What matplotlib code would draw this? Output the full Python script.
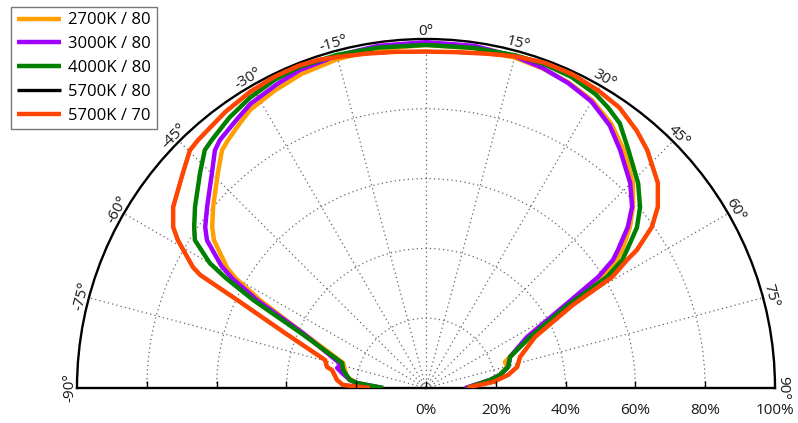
import numpy as np
import matplotlib
matplotlib.use('Agg')
import matplotlib.pyplot as plt
from matplotlib import markers

plt.rcParams['font.family'] = ['Open Sans', 'DejaVu Sans']

# ---------------- data (angle in degrees, relative intensity in %) ----------------
series_labels = ['2700K / 80', '3000K / 80', '4000K / 80', '5700K / 80', '5700K / 70']
series_colors = ['#FFA000', '#A000FF', '#008000', '#000000', '#FF4500']

theta_2700 = [-90, -85.9, -82.1, -73.2, -65.9, -62.1, -60.0, -58.9, -55.1, -53.0, -49.6, -44.1,
              -40.6, -38.6, -35, -32.2, -27, -21.6, -15, -8, 0, 8, 15, 20, 25, 30, 35, 39.7,
              45.3, 48.8, 51.7, 54.9, 56.2, 57.9, 59.5, 63.7, 71.8, 75.6, 80.0, 82.9, 90]
r_2700 = [13.2, 19.8, 22.9, 24.8, 38.6, 53.8, 63.0, 66.5, 74.1, 76.7, 80.1, 85.7,
          89.8, 90.9, 92.8, 94.3, 95.6, 96.8, 97.6, 98.1, 98.3, 98.3, 98.0, 97.5, 96.6, 95.2, 92.5, 88.7,
          83.5, 78.8, 74.5, 68.7, 65.6, 59.9, 46.9, 32.9, 23.8, 24.0, 21.5, 18.5, 11.7]

theta_3000 = [-90, -85.9, -84.0, -79.9, -77.3, -74.5, -66.0, -62.5, -60.5, -59.2, -56.0, -53.9,
              -50.4, -44.9, -41.6, -39.7, -35, -31.7, -26, -21.6, -15, -8, 0, 8, 15, 20, 25, 30,
              35, 39.2, 44.9, 48.7, 51.4, 54.3, 55.6, 57.2, 59.2, 63.2, 69.7, 75.6, 80.0, 82.9, 90]
r_3000 = [12.3, 19.8, 21.9, 24.4, 26.1, 25.2, 38.5, 54.6, 63.8, 68.2, 75.7, 78.3,
          81.4, 86.9, 91.1, 92.4, 94.2, 95.7, 97.0, 98.0, 98.6, 99.0, 99.1, 99.0, 98.4, 97.6, 96.4, 94.8,
          91.8, 88.0, 82.9, 78.6, 74.0, 67.7, 64.9, 58.7, 46.4, 32.4, 25.7, 24.3, 21.5, 18.5, 11.2]

theta_4000 = [-90, -85.9, -84.0, -77.8, -73.4, -66.3, -63.0, -61.2, -60.0, -57.4, -55.2, -51.9,
              -46.4, -42.9, -40.8, -36, -31.2, -26, -21.6, -15, -8, 0, 8, 15, 20, 25, 30, 33,
              36.2, 40.4, 46.0, 49.8, 52.7, 55.5, 56.9, 58.5, 59.7, 63.9, 69.7, 75.6, 80.0, 82.9, 90]
r_4000 = [12.3, 19.8, 21.9, 24.3, 25.1, 39.1, 55.6, 65.5, 71.5, 78.6, 80.9, 84.1,
          89.4, 93.1, 93.9, 95.8, 97.3, 98.4, 98.9, 98.8, 98.5, 98.3, 98.4, 98.7, 98.8, 98.4, 97.2, 95.8,
          94.0, 89.5, 84.5, 80.3, 76.0, 69.9, 67.1, 60.8, 47.1, 33.2, 25.7, 24.3, 21.5, 18.5, 11.7]

theta_5700_80 = [-90, -87.9, -84.9, -79.2, -78.0, -74.5, -68.7, -65.0, -63.4, -62.6, -59.2, -57.5,
                 -54.4, -48.5, -44.8, -42.6, -36, -30.7, -26, -21.6, -18, -15, -10, -5, 0, 5, 10,
                 15, 20, 25, 30, 34.6, 39.3, 42.9, 48.5, 52.0, 54.5, 56.8, 57.5, 59.2, 60.5, 64.9,
                 71.7, 77.0, 81.0, 84.9, 88.7, 90]
r_5700_80 = [16.0, 23.8, 25.6, 27.4, 29.0, 30.0, 43.4, 59.7, 72.4, 75.2, 82.8, 85.9,
             89.1, 93.0, 96.0, 96.5, 97.8, 98.7, 99.2, 99.3, 98.9, 98.2, 97.3, 96.7, 96.4, 96.6, 97.3,
             98.4, 99.2, 99.2, 98.5, 97.6, 95.3, 93.1, 88.7, 84.3, 79.5, 72.2, 68.3, 62.1, 48.4, 34.5,
             28.4, 26.8, 23.8, 19.3, 12.6, 12.0]

theta_5700_70 = [-90, -87.9, -84.9, -79.2, -78.0, -74.5, -68.7, -65.0, -63.4, -62.6, -59.2, -57.5,
                 -54.4, -48.5, -44.8, -42.6, -36, -30.7, -26, -21.6, -18, -15, -10, -5, 0, 5, 10,
                 15, 20, 25, 30, 34.6, 39.3, 42.9, 48.5, 52.0, 54.5, 56.8, 57.5, 59.2, 60.5, 64.9,
                 71.7, 77.0, 81.0, 84.9, 88.7, 90]
r_5700_70 = [16.0, 23.8, 25.6, 27.4, 29.0, 30.0, 43.4, 59.7, 72.4, 75.2, 82.8, 85.9,
             89.1, 93.0, 96.0, 96.5, 97.8, 98.7, 99.2, 99.3, 98.9, 98.2, 97.3, 96.7, 96.4, 96.6, 97.3,
             98.4, 99.2, 99.2, 98.5, 97.6, 95.3, 93.1, 88.7, 84.3, 79.5, 72.2, 68.3, 62.1, 48.4, 34.5,
             28.4, 26.8, 23.8, 19.3, 12.6, 12.0]

angle_ticks = list(range(-90, 91, 15))
radial_ticks = [0, 20, 40, 60, 80, 100]
radial_tick_labels = ['0%', '20%', '40%', '60%', '80%', '100%']

series_theta = [theta_2700, theta_3000, theta_4000, theta_5700_80, theta_5700_70]
series_r = [r_2700, r_3000, r_4000, r_5700_80, r_5700_70]
series_lw = [3.2, 3.2, 3.2, 2.4, 3.2]

# ---------------- figure ----------------
W, H = 798, 423
fig = plt.figure(figsize=(W / 100, H / 100), dpi=100)
cx, cy, R = 426, 388, 349
# matplotlib places the upper half-disc of a square polar box with its centre
# at 1/4 of the box height from the bottom
side = 2 * R
bottom_px = cy + side / 4.0          # from the top of the figure
ax = fig.add_axes([(cx - R) / W, (H - bottom_px) / H, side / W, side / H], projection='polar')
ax.set_theta_zero_location('N')
ax.set_theta_direction(-1)
ax.set_thetamin(-90)
ax.set_thetamax(90)
ax.set_rlim(0, 100)

lines = []
for th, rr, c, lab, lw in zip(series_theta, series_r, series_colors, series_labels, series_lw):
    ln, = ax.plot(np.deg2rad(th), rr, color=c, lw=lw, label=lab, solid_capstyle='butt',
                  solid_joinstyle='round', zorder=3)
    lines.append(ln)

# grid
ax.set_xticks(np.deg2rad(angle_ticks))
ax.set_xticklabels([])
ax.set_yticks([20, 40, 60, 80])
ax.set_yticklabels([])
ax.grid(True, linestyle=(0, (1, 2.5)), color='#666666', linewidth=0.9)
ax.tick_params(axis='x', direction='in', length=5, width=1, color='black', pad=0)
ax.tick_params(axis='y', length=0)

for s in ['polar', 'start', 'end']:
    ax.spines[s].set_color('black')
    ax.spines[s].set_linewidth(1.7)
ax.spines['inner'].set_visible(False)

# angle labels
for a in angle_ticks:
    ax.text(np.deg2rad(a), 100.0, f'{a}°', rotation=-a, rotation_mode='anchor',
            ha='center', va='bottom', fontsize=11, color='#1a1a1a')

# radial ticks on the baseline
for r in radial_ticks[:-1]:
    ax.plot([np.deg2rad(90)], [r], marker=markers.TICKUP, markersize=5, color='black',
            mew=1, clip_on=False, zorder=4)
    if r > 0:
        ax.plot([np.deg2rad(-90)], [r], marker=markers.TICKUP, markersize=5, color='black',
                mew=1, clip_on=False, zorder=4)
for r, lab in zip(radial_ticks, radial_tick_labels):
    ax.annotate(lab, xy=(np.deg2rad(90), r), xytext=(0, -10.5), textcoords='offset points',
                ha='center', va='top', fontsize=11, color='#1a1a1a', annotation_clip=False)

leg = fig.legend(handles=lines, loc='upper left', bbox_to_anchor=(11 / W, 1 - 7 / H),
                 borderaxespad=0, fontsize=12, handlelength=2.64, handletextpad=0.48,
                 fancybox=False, edgecolor='#777777', framealpha=1, labelspacing=0.47,
                 borderpad=0.33)
leg.get_frame().set_linewidth(1.0)

fig.savefig('out.png', dpi=100)
